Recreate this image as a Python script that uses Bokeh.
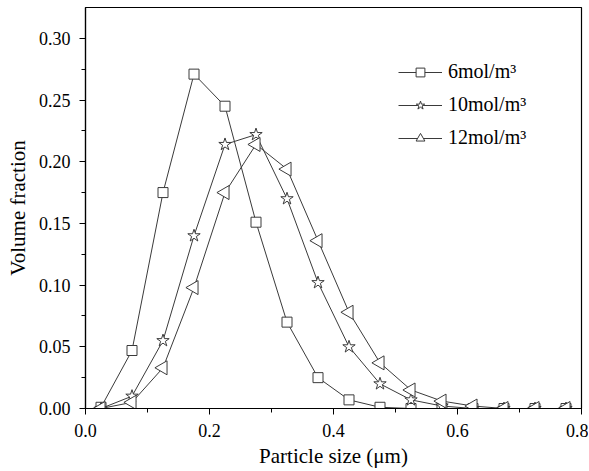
import numpy as np
from bokeh.plotting import figure
from bokeh.models import (Range1d, SingleIntervalTicker, NumeralTickFormatter,
                          Legend, LegendItem)
from bokeh.embed import file_html
from bokeh.resources import INLINE

# Particle size bin centres (µm)
size = [0.025, 0.075, 0.125, 0.175, 0.225, 0.275, 0.325, 0.375,
        0.425, 0.475, 0.525, 0.575, 0.625, 0.675, 0.725, 0.775]

vf_6 = [0.001, 0.047, 0.175, 0.271, 0.245, 0.151, 0.070, 0.025,
        0.007, 0.001, 0.000, 0.000, 0.000, 0.000, 0.000, 0.000]
vf_10 = [0.000, 0.010, 0.055, 0.140, 0.214, 0.222, 0.170, 0.102,
         0.050, 0.020, 0.007, 0.002, 0.000, 0.000, 0.000, 0.000]
vf_12 = [0.000, 0.005, 0.033, 0.098, 0.175, 0.214, 0.194, 0.136,
         0.078, 0.037, 0.015, 0.006, 0.002, 0.000, 0.000, 0.000]

labels = ["6mol/m³", "10mol/m³", "12mol/m³"]

FONT = "Liberation Serif"
LC = "#3a3a3a"

p = figure(width=588, height=470, output_backend="svg", toolbar_location=None,
           x_range=Range1d(0.0, 0.8), y_range=Range1d(0.0, 0.325),
           min_border_left=85, min_border_right=7, min_border_top=7,
           min_border_bottom=61)

p.xgrid.visible = False
p.ygrid.visible = False
p.outline_line_color = "black"
p.outline_line_width = 1.2
p.background_fill_color = "white"
p.border_fill_color = "white"

# axes
p.xaxis.ticker = SingleIntervalTicker(interval=0.2, num_minor_ticks=2)
p.yaxis.ticker = SingleIntervalTicker(interval=0.05, num_minor_ticks=2)
p.xaxis.formatter = NumeralTickFormatter(format="0.0")
p.yaxis.formatter = NumeralTickFormatter(format="0.00")
p.xaxis.axis_label = "Particle size (μm)"
p.yaxis.axis_label = "Volume fraction"
for ax in (p.xaxis, p.yaxis):
    ax.axis_line_color = "black"
    ax.axis_line_width = 1.2
    ax.major_tick_line_color = "black"
    ax.minor_tick_line_color = "black"
    ax.major_tick_in = 0
    ax.major_tick_out = 6
    ax.minor_tick_in = 0
    ax.minor_tick_out = 4
    ax.major_label_text_font = FONT
    ax.major_label_text_font_size = "18px"
    ax.major_label_text_color = "black"
    ax.axis_label_text_font = FONT
    ax.axis_label_text_font_size = "21px"
    ax.axis_label_text_font_style = "normal"
    ax.axis_label_text_color = "black"
p.xaxis.major_label_standoff = 9
p.xaxis.axis_label_standoff = 4
p.yaxis.major_label_standoff = 9
p.yaxis.axis_label_standoff = 6

# series
r1l = p.line(size, vf_6, line_color=LC, line_width=1)
r2l = p.line(size, vf_10, line_color=LC, line_width=1)
r3l = p.line(size, vf_12, line_color=LC, line_width=1)
r1m = p.scatter(size, vf_6, marker="square", size=10, line_color=LC,
                fill_color="white", line_width=1)
r2m = p.scatter(size, vf_10, marker="star", size=13, line_color=LC,
                fill_color="white", line_width=1)
r3m = p.scatter(size, vf_12, marker="triangle", size=14, angle=np.pi / 2,
                line_color=LC, fill_color="white", line_width=1)

legend = Legend(items=[
    LegendItem(label=labels[0], renderers=[r1l, r1m]),
    LegendItem(label=labels[1], renderers=[r2l, r2m]),
    LegendItem(label=labels[2], renderers=[r3l, r3m]),
], location=(313, 259))
legend.border_line_color = None
legend.background_fill_alpha = 0
legend.label_text_font = FONT
legend.label_text_font_size = "20px"
legend.label_text_color = "black"
legend.glyph_width = 44
legend.glyph_height = 22
legend.label_height = 22
legend.spacing = 10
legend.padding = 0
legend.margin = 0
legend.label_standoff = 6
p.add_layout(legend, "center")

open("out.html", "w").write(file_html(p, INLINE))
